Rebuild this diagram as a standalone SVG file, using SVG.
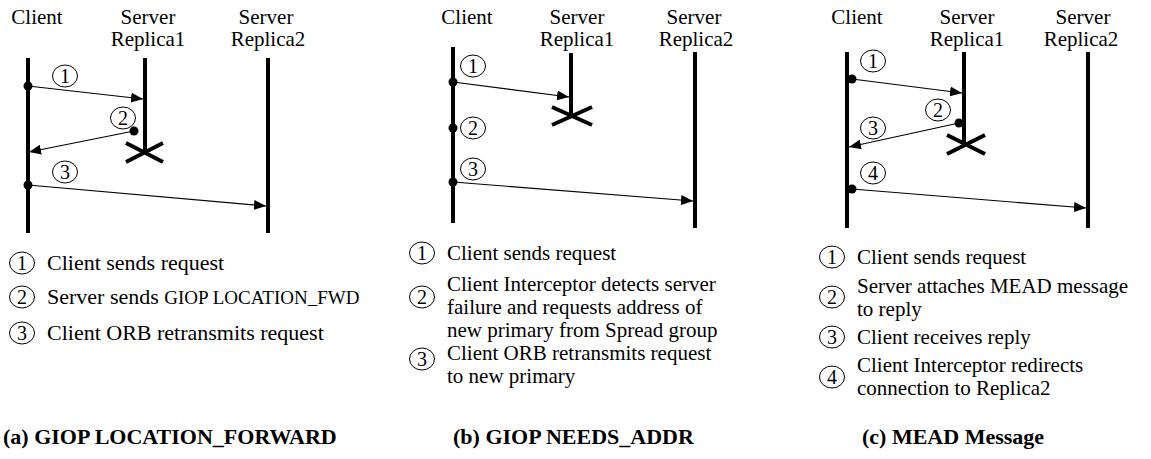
<svg xmlns="http://www.w3.org/2000/svg" width="1151" height="459" viewBox="0 0 1151 459" font-family="Liberation Serif">
<style>
text{font-family:'Liberation Serif','Times New Roman',serif;fill:#000}
.life{stroke:#000;stroke-width:4;fill:none}
.msg{stroke:#000;stroke-width:1.2;fill:none;marker-end:url(#ah)}
.x{stroke:#000;stroke-width:4;fill:none}
.dot{fill:#000}
.ring{fill:none;stroke:#000;stroke-width:1}
.hdr{font-size:21px;text-anchor:middle}
.lg{font-size:22px}
.lg2{font-size:21px}
.sm{font-size:19px}
.cap{font-size:22px;font-weight:bold}
.n{font-size:20px;text-anchor:middle}
</style>
<defs>
<marker id="ah" markerWidth="12" markerHeight="10" refX="12" refY="5" orient="auto" markerUnits="userSpaceOnUse"><path d="M0,0 L12,5 L0,10 z" fill="#000"/></marker>
<g id="c1"><ellipse class="ring" cx="0" cy="0" rx="12.5" ry="11"/><text class="n" x="0" y="7">1</text></g>
<g id="c2"><ellipse class="ring" cx="0" cy="0" rx="12.5" ry="11"/><text class="n" x="0" y="7">2</text></g>
<g id="c3"><ellipse class="ring" cx="0" cy="0" rx="12.5" ry="11"/><text class="n" x="0" y="7">3</text></g>
<g id="c4"><ellipse class="ring" cx="0" cy="0" rx="12.5" ry="11"/><text class="n" x="0" y="7">4</text></g>
</defs>

<!-- Panel (a) -->
<g id="a-client"><text class="hdr" x="37" y="24">Client</text><line class="life" x1="28" y1="58" x2="28" y2="233"/></g>
<g id="a-replica1"><text class="hdr" x="148" y="24">Server</text><text class="hdr" x="148" y="46">Replica1</text><line class="life" x1="145" y1="58" x2="145" y2="152"/><path class="x" d="M126,143 L163,162 M126,162 L163,143"/></g>
<g id="a-replica2"><text class="hdr" x="266" y="24">Server</text><text class="hdr" x="268" y="46">Replica2</text><line class="life" x1="268" y1="58" x2="268" y2="233"/></g>
<g id="a-connectors">
<circle class="dot" cx="28" cy="86" r="4.5"/><line class="msg" x1="28" y1="86" x2="143" y2="99"/>
<circle class="dot" cx="134" cy="131" r="4.5"/><line class="msg" x1="134" y1="131" x2="29" y2="152"/>
<circle class="dot" cx="28" cy="185" r="4.5"/><line class="msg" x1="28" y1="185" x2="266" y2="206"/>
</g>
<g id="a-labels"><use href="#c1" x="65" y="76"/><use href="#c2" x="123" y="118"/><use href="#c3" x="65" y="172"/></g>
<g id="a-legend">
<use href="#c1" x="22" y="263"/><text class="lg" x="47" y="270">Client sends request</text>
<use href="#c2" x="22" y="297"/><text class="lg" x="47" y="304">Server sends <tspan class="sm">GIOP LOCATION_FWD</tspan></text>
<use href="#c3" x="22" y="333"/><text class="lg" x="47" y="340">Client ORB retransmits request</text>
<text class="cap" x="3" y="444">(a) GIOP LOCATION_FORWARD</text>
</g>

<!-- Panel (b) -->
<g id="b-client"><text class="hdr" x="467" y="24">Client</text><line class="life" x1="453" y1="47" x2="453" y2="223"/></g>
<g id="b-replica1"><text class="hdr" x="577" y="24">Server</text><text class="hdr" x="577" y="46">Replica1</text><line class="life" x1="571" y1="53" x2="571" y2="116"/><path class="x" d="M552,107 L592,125 M552,125 L592,107"/></g>
<g id="b-replica2"><text class="hdr" x="694" y="24">Server</text><text class="hdr" x="696" y="46">Replica2</text><line class="life" x1="695" y1="52" x2="695" y2="228"/></g>
<g id="b-connectors">
<circle class="dot" cx="453" cy="82" r="4.5"/><line class="msg" x1="453" y1="82" x2="569" y2="97"/>
<circle class="dot" cx="453" cy="128" r="4.5"/>
<circle class="dot" cx="453" cy="182" r="4.5"/><line class="msg" x1="453" y1="182" x2="693" y2="201"/>
</g>
<g id="b-labels"><use href="#c1" x="473" y="66"/><use href="#c2" x="473" y="128"/><use href="#c3" x="473" y="169"/></g>
<g id="b-legend">
<use href="#c1" x="422" y="253"/><text class="lg2" x="447" y="260">Client sends request</text>
<use href="#c2" x="422" y="297"/><text class="lg2" x="447" y="291">Client Interceptor detects server</text>
<text class="lg2" x="447" y="314">failure and requests address of</text>
<text class="lg2" x="447" y="337">new primary from Spread group</text>
<use href="#c3" x="422" y="359"/><text class="lg2" x="447" y="360">Client ORB retransmits request</text>
<text class="lg2" x="447" y="383">to new primary</text>
<text class="cap" x="453" y="444">(b) GIOP NEEDS_ADDR</text>
</g>

<!-- Panel (c) -->
<g id="c-client"><text class="hdr" x="857" y="24">Client</text><line class="life" x1="847" y1="52" x2="847" y2="228"/></g>
<g id="c-replica1"><text class="hdr" x="967" y="24">Server</text><text class="hdr" x="967" y="46">Replica1</text><line class="life" x1="964" y1="52" x2="964" y2="146"/><path class="x" d="M947,135 L985,154 M947,154 L985,135"/></g>
<g id="c-replica2"><text class="hdr" x="1083" y="24">Server</text><text class="hdr" x="1081" y="46">Replica2</text><line class="life" x1="1088" y1="52" x2="1088" y2="228"/></g>
<g id="c-connectors">
<circle class="dot" cx="852" cy="79" r="4.5"/><line class="msg" x1="852" y1="79" x2="962" y2="93"/>
<circle class="dot" cx="959" cy="123" r="4.5"/><line class="msg" x1="959" y1="123" x2="849" y2="147"/>
<circle class="dot" cx="852" cy="189" r="4.5"/><line class="msg" x1="852" y1="189" x2="1086" y2="208"/>
</g>
<g id="c-labels"><use href="#c1" x="873" y="61"/><use href="#c2" x="938" y="110"/><use href="#c3" x="873" y="128"/><use href="#c4" x="873" y="173"/></g>
<g id="c-legend">
<use href="#c1" x="832" y="257"/><text class="lg2" x="857" y="264">Client sends request</text>
<use href="#c2" x="832" y="297"/><text class="lg2" x="857" y="293">Server attaches MEAD message</text>
<text class="lg2" x="857" y="316">to reply</text>
<use href="#c3" x="832" y="337"/><text class="lg2" x="857" y="344">Client receives reply</text>
<use href="#c4" x="832" y="377"/><text class="lg2" x="857" y="372">Client Interceptor redirects</text>
<text class="lg2" x="857" y="395">connection to Replica2</text>
<text class="cap" x="862" y="444">(c) MEAD Message</text>
</g>
</svg>
